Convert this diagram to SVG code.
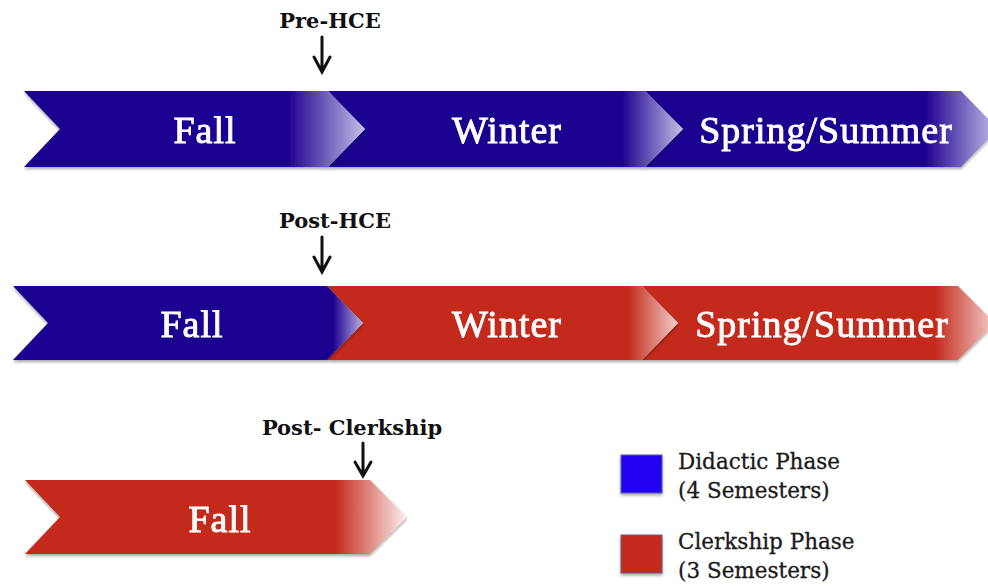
<svg xmlns="http://www.w3.org/2000/svg" width="988" height="586" viewBox="0 0 988 586">
  <style>
    .big { font-family: "Liberation Serif", "DejaVu Serif", serif; font-weight: normal; font-size: 38px; fill: #ffffff; stroke: #ffffff; stroke-width: 0.9; letter-spacing: 1px; text-anchor: middle; }
    .lbl { font-family: "DejaVu Serif", "Liberation Serif", serif; font-weight: bold; font-size: 21px; fill: #111111; text-anchor: middle; }
    .leg { font-family: "DejaVu Serif", "Liberation Serif", serif; font-size: 21.5px; fill: #1a1a1a; stroke: #1a1a1a; stroke-width: 0.3; }
    .arr { fill: none; stroke: #111111; stroke-width: 3; stroke-linecap: round; stroke-linejoin: miter; }
    .seg { filter: url(#sh); }
  </style>
  <defs>
    <filter id="sh" x="-5%" y="-20%" width="110%" height="150%">
      <feDropShadow dx="0" dy="2" stdDeviation="1.5" flood-color="#000000" flood-opacity="0.35"/>
    </filter>
    <linearGradient id="b1" gradientUnits="userSpaceOnUse" x1="288" y1="0" x2="365" y2="0">
      <stop offset="0" stop-color="#1f0090"/><stop offset="1" stop-color="#c4bfe8"/>
    </linearGradient>
    <linearGradient id="b2" gradientUnits="userSpaceOnUse" x1="622" y1="0" x2="683" y2="0">
      <stop offset="0" stop-color="#1f0090"/><stop offset="1" stop-color="#c4bfe8"/>
    </linearGradient>
    <linearGradient id="b3" gradientUnits="userSpaceOnUse" x1="925" y1="0" x2="998" y2="0">
      <stop offset="0" stop-color="#1f0090"/><stop offset="1" stop-color="#c4bfe8"/>
    </linearGradient>
    <linearGradient id="b4" gradientUnits="userSpaceOnUse" x1="333" y1="0" x2="363" y2="0">
      <stop offset="0" stop-color="#1f0090"/><stop offset="1" stop-color="#b8b2e2"/>
    </linearGradient>
    <linearGradient id="r1" gradientUnits="userSpaceOnUse" x1="628" y1="0" x2="678" y2="0">
      <stop offset="0" stop-color="#c4291b"/><stop offset="1" stop-color="#f2cfcb"/>
    </linearGradient>
    <linearGradient id="r2" gradientUnits="userSpaceOnUse" x1="935" y1="0" x2="995" y2="0">
      <stop offset="0" stop-color="#c4291b"/><stop offset="1" stop-color="#f2cfcb"/>
    </linearGradient>
    <linearGradient id="r3" gradientUnits="userSpaceOnUse" x1="335" y1="0" x2="407" y2="0">
      <stop offset="0" stop-color="#c4291b"/><stop offset="1" stop-color="#fbf0ef"/>
    </linearGradient>
  </defs>

  <rect width="988" height="586" fill="#ffffff"/>

  <!-- Row 1 -->
  <g id="r1-spring" class="seg">
    <path d="M645,91 L961,91 L998,129 L961,167 L645,167 L683,129 Z" fill="url(#b3)"/>
    <text class="big" x="826" y="143">Spring/Summer</text>
  </g>
  <g id="r1-winter" class="seg">
    <path d="M328,91 L645,91 L683,129 L645,167 L328,167 L365,129 Z" fill="url(#b2)"/>
    <text class="big" x="507" y="143">Winter</text>
  </g>
  <g id="r1-fall" class="seg">
    <path d="M24,91 L328,91 L365,129 L328,167 L24,167 L60,129 Z" fill="url(#b1)"/>
    <text class="big" x="205" y="143">Fall</text>
  </g>

  <!-- Row 2 -->
  <g id="r2-spring" class="seg">
    <path d="M642,286 L958,286 L995,323 L958,360 L642,360 L678,323 Z" fill="url(#r2)"/>
    <text class="big" x="822" y="337">Spring/Summer</text>
  </g>
  <g id="r2-winter" class="seg">
    <path d="M327,286 L642,286 L678,323 L642,360 L327,360 L363,323 Z" fill="url(#r1)"/>
    <text class="big" x="507" y="337">Winter</text>
  </g>
  <g id="r2-fall" class="seg">
    <path d="M13,286 L327,286 L363,323 L327,360 L13,360 L48,323 Z" fill="url(#b4)"/>
    <text class="big" x="192" y="337">Fall</text>
  </g>

  <!-- Row 3 -->
  <g id="r3-fall" class="seg">
    <path d="M25,480 L370,480 L407,517 L370,554 L25,554 L60,517 Z" fill="url(#r3)"/>
    <text class="big" x="220" y="532">Fall</text>
  </g>

  <!-- Markers -->
  <g id="pre-hce">
    <text class="lbl" x="330" y="28">Pre-HCE</text>
  </g>
  <g id="post-hce">
    <text class="lbl" x="335" y="228">Post-HCE</text>
  </g>
  <g id="post-clerkship">
    <text class="lbl" x="352" y="435">Post- Clerkship</text>
  </g>

  <g id="connectors">
    <path class="arr" d="M322,37 V72 M314,57 L322,72 L330,57"/>
    <path class="arr" d="M322,237 V272 M314,257 L322,272 L330,257"/>
    <path class="arr" d="M363,443 V476 M355,462 L363,476 L371,462"/>
  </g>

  <!-- Legend -->
  <g id="legend-didactic">
    <rect x="621" y="455" width="41" height="38" fill="#2400f0" stroke="#5a5aa0" stroke-width="1" filter="url(#sh)"/>
    <text class="leg" x="678" y="469">Didactic Phase</text>
    <text class="leg" x="678" y="498">(4 Semesters)</text>
  </g>
  <g id="legend-clerkship">
    <rect x="621" y="535" width="41" height="38" fill="#c4291b" stroke="#6a5a9a" stroke-width="1" filter="url(#sh)"/>
    <text class="leg" x="678" y="549">Clerkship Phase</text>
    <text class="leg" x="678" y="578">(3 Semesters)</text>
  </g>
</svg>
